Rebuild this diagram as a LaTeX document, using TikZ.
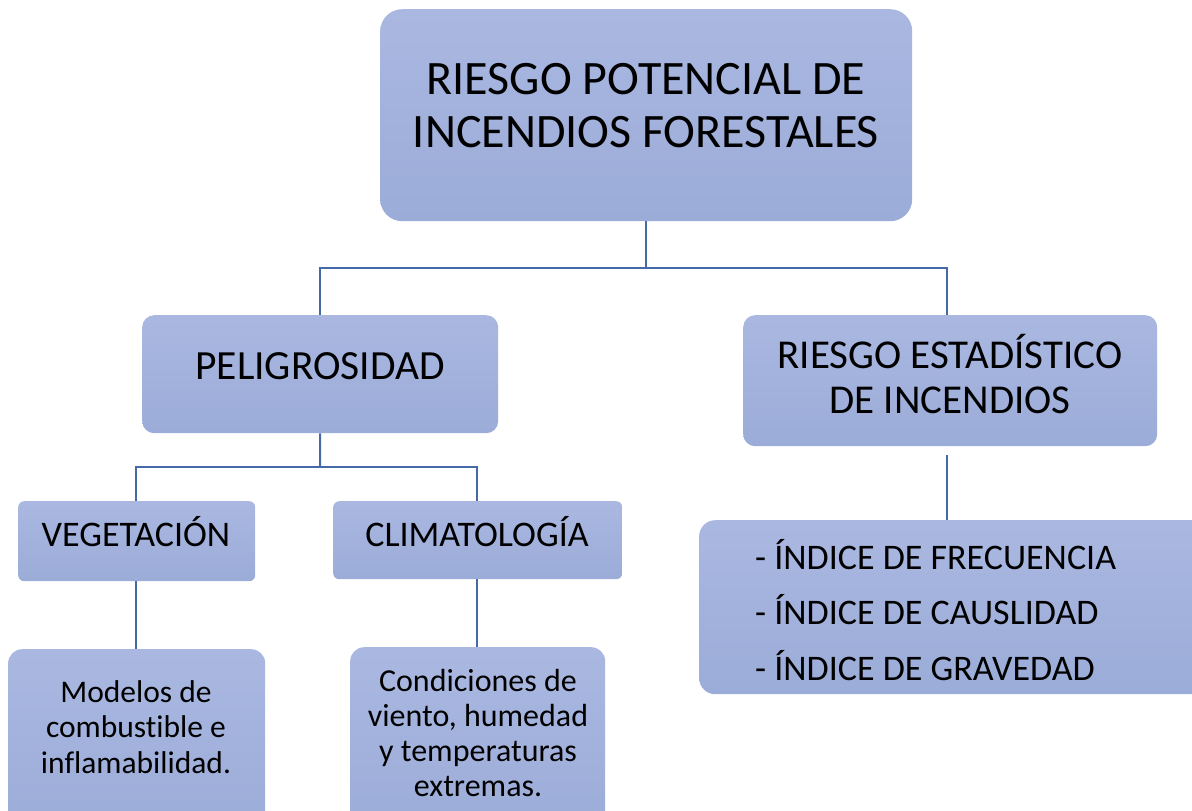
\documentclass[tikz,border=0pt]{standalone}
\usepackage{fontspec}
\setmainfont{Carlito}[Ligatures=NoCommon]
\definecolor{boxtop}{RGB}{170,184,225}
\definecolor{boxbot}{RGB}{155,172,216}
\definecolor{linkblue}{RGB}{68,106,168}
\tikzset{
  box/.style={rounded corners=#1, top color=boxtop, bottom color=boxbot, draw=none,
    anchor=north west, inner sep=0pt},
  box/.default=10pt,
  lbl/.style={align=center, inner sep=0pt, text=black},
  link/.style={draw=linkblue, line width=2pt},
}
\begin{document}
\begin{tikzpicture}[x=1pt,y=-1pt]
\useasboundingbox (0,0) rectangle (1192,811);
\clip (0,0) rectangle (1192,811);
% boxes
\node[box=22pt, minimum width=532pt, minimum height=212pt] (top) at (380,9) {};
\node[lbl, font=\fontsize{48}{53}\selectfont] (toptxt) at (646,106) {RIESGO POTENCIAL DE\\INCENDIOS FORESTALES};

\node[box=12pt, minimum width=356pt, minimum height=118pt] (pel) at (142,315) {};
\node[lbl, font=\fontsize{41.5}{45}\selectfont] (peltxt) at (320,366) {PELIGROSIDAD};

\node[box=12pt, minimum width=414pt, minimum height=131pt] (rie) at (743,315) {};
\node[lbl, font=\fontsize{41}{45}\selectfont] (rietxt) at (950,374) {RIESGO ESTAD\'ISTICO\\DE INCENDIOS};

\node[box=6pt, minimum width=237pt, minimum height=80pt] (veg) at (18,501) {};
\node[lbl, font=\fontsize{36}{40}\selectfont] (vegtxt) at (136,532) {VEGETACI\'ON};

\node[box=6pt, minimum width=289pt, minimum height=78pt] (cli) at (333,501) {};
\node[lbl, font=\fontsize{36}{40}\selectfont] (clitxt) at (477,532) {CLIMATOLOG\'IA};

\node[box=14pt, minimum width=257pt, minimum height=190pt] (mod) at (8,649) {};
\node[lbl, font=\fontsize{31.5}{35.5}\selectfont] (modtxt) at (136,727) {Modelos de\\combustible e\\inflamabilidad.};

\node[box=14pt, minimum width=255pt, minimum height=190pt] (con) at (350,647) {};
\node[lbl, font=\fontsize{32}{35.3}\selectfont] (contxt) at (478,733) {Condiciones de\\viento, humedad\\y temperaturas\\extremas.};

\node[box=16pt, minimum width=520pt, minimum height=174pt] (ind) at (699,520) {};
\node[lbl, font=\fontsize{36}{55.5}\selectfont, align=left, anchor=west] (indtxt) at (755,610) {- \'INDICE DE FRECUENCIA\\- \'INDICE DE CAUSLIDAD\\- \'INDICE DE GRAVEDAD};

% connectors
\coordinate (j1) at (646,268);
\coordinate (j2) at (320,467);
\draw[link] (top.south -| j1) -- (j1);
\draw[link] (pel.north) |- (j1) -| (947,315);
\draw[link] (pel.south) -- (j2);
\draw[link] (136,501) |- (j2) -| (477,501);
\draw[link] (136,581) -- (136,649);
\draw[link] (477,579) -- (477,647);
\draw[link, shorten <=9pt] (rie.south -| 947,0) -- (947,520);
\end{tikzpicture}
\end{document}
